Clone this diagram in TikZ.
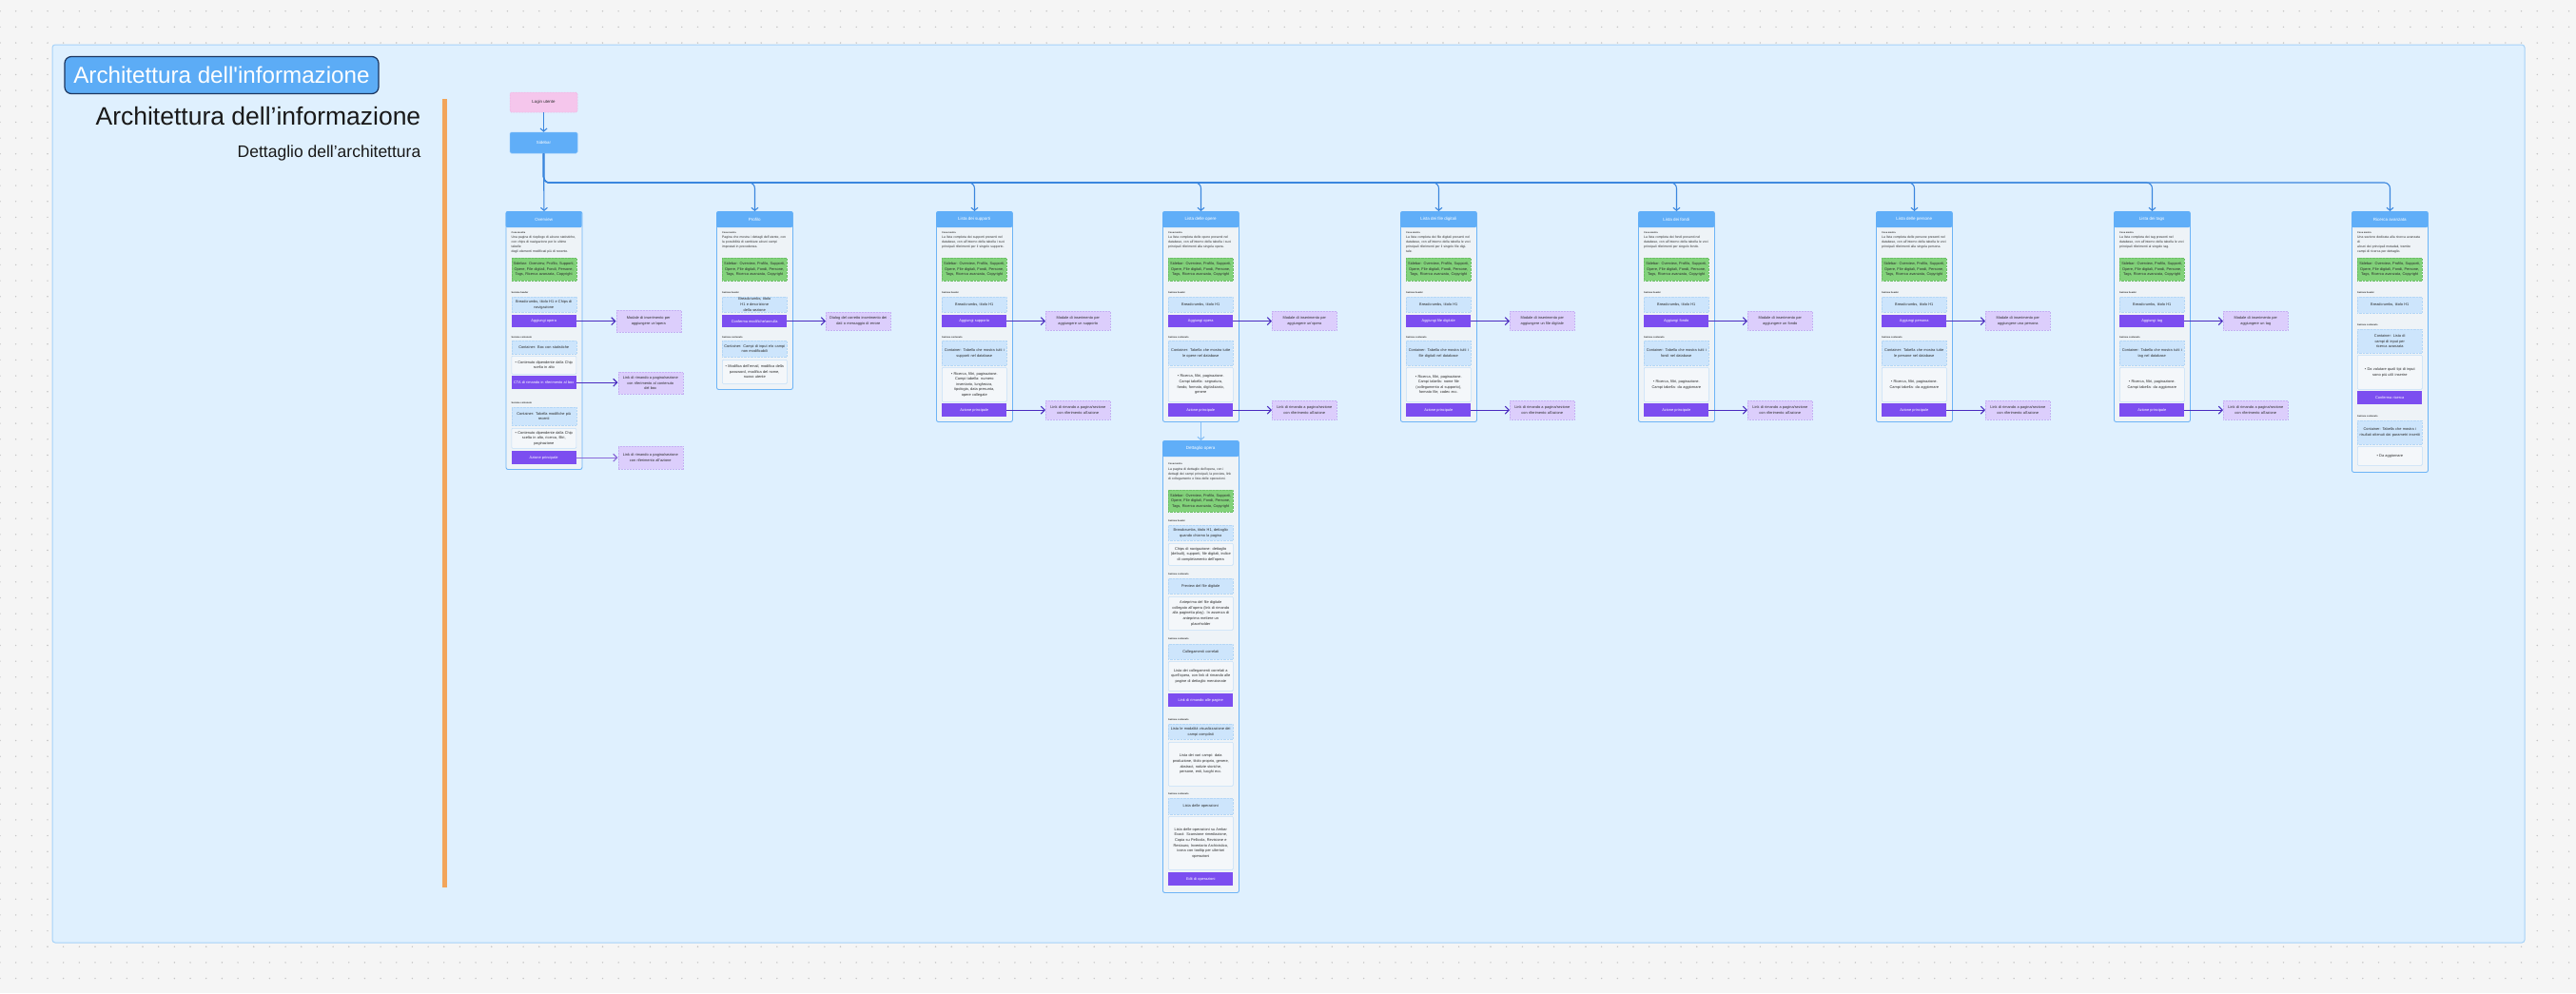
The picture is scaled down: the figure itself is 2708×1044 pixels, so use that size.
\documentclass[tikz,border=0pt]{standalone}
\usepackage{fontspec}
\setmainfont{Liberation Sans}
\newfontfamily\rawsans{Liberation Sans}[Ligatures=TeXOff]
\usetikzlibrary{arrows.meta}
\definecolor{pagebg}{HTML}{F5F5F5}
\definecolor{dotc}{HTML}{C4C4C4}
\definecolor{framebg}{HTML}{DFF0FE}
\definecolor{frameline}{HTML}{A6D2F8}
\definecolor{titlefill}{HTML}{5CACF6}
\definecolor{titleline}{HTML}{1C355E}
\definecolor{orangec}{HTML}{F2A55A}
\definecolor{pinkc}{HTML}{F5C6EC}
\definecolor{pinkline}{HTML}{E9A9DC}
\definecolor{hdrc}{HTML}{60AEF8}
\definecolor{cardbg}{HTML}{EEF3F7}
\definecolor{cardline}{HTML}{6DB4F6}
\definecolor{greenc}{HTML}{82D27A}
\definecolor{greenline}{HTML}{6CBF66}
\definecolor{lbluec}{HTML}{CDE5FC}
\definecolor{lblueline}{HTML}{B3D6F6}
\definecolor{wboxc}{HTML}{F4F7FA}
\definecolor{wboxline}{HTML}{C3DFF8}
\definecolor{purplec}{HTML}{7C4EF0}
\definecolor{notec}{HTML}{DCCEFC}
\definecolor{noteline}{HTML}{C5B0F3}
\definecolor{connc}{HTML}{3A86DE}
\definecolor{connlight}{HTML}{86BFF5}
\definecolor{sidec}{HTML}{4A2BBF}
\definecolor{sidelight}{HTML}{8A6AD8}
\definecolor{txtc}{HTML}{2E2E2E}

\newcommand\mycard[5]{%
  \node[cardbody, minimum height=#4pt] (#1) at (#2,#3) {};
  \node[cardhdr] (#1h) at (#2,#3) {#5};}
\newcommand\mybox[6]{\node[#1, minimum height=#5pt] (#2) at (#3,#4) {#6};}
\newcommand\mylabel[4]{\node[lstyle] (#1) at (#2,#3) {#4};}
\newcommand\mydesc[4]{\node[dstyle] (#1) at (#2,#3) {#4};}
\newcommand\sidearrow[3][sidec]{\draw[sarrow, draw=#1] (#2.east) -- (#2.east -| #3.west);}
\newcommand\sidebartxt{Sidebar: Overview, Profilo, Supporti,\\Opere, File digitali, Fondi, Persone,\\Tags, Ricerca avanzata, Copyright}
\newcommand\commontop[4]{%
  \mylabel{#1l1}{#2+6}{#3+23}{Cosa mostra}
  \mydesc{#1d}{#2+6}{#3+26}{#4}
  \mybox{gbox}{#1g}{#2+6}{#3+49}{24}{\sidebartxt}}
\newcommand\listcol[8]{%
  \mycard{#1}{#2}{222}{221}{#3}
  \commontop{#1}{#2}{222}{#4}
  \mylabel{#1l2}{#2+6}{308}{Sezione header}
  \mybox{lbox}{#1b1}{#2+6}{312}{16}{Breadcrumbs, titolo H1}
  \mybox{pbox}{#1p1}{#2+6}{331}{13}{#5}
  \mybox{nbox}{#1n1}{#2+115}{327}{20}{#6}
  \mylabel{#1l3}{#2+6}{355}{Sezione contenuto}
  \mybox{lbox}{#1b2}{#2+6}{358}{26}{#7}
  \mybox{wbox}{#1w1}{#2+6}{386}{36}{#8}
  \mybox{pbox}{#1p2}{#2+6}{424}{14}{Azione principale}
  \mybox{nbox}{#1n2}{#2+115}{421}{20}{Link di rimando a pagina/sezione\\con riferimento all’azione}
  \sidearrow{#1p1}{#1n1}
  \sidearrow{#1p2}{#1n2}}

\begin{document}
\begin{tikzpicture}[x=1pt,y=-1pt,
  cardbody/.style={anchor=north west, minimum width=80pt, draw=cardline, fill=cardbg, line width=0.9pt, rounded corners=2pt, inner sep=0pt},
  cardhdr/.style={anchor=north west, minimum width=80pt, minimum height=17pt, fill=hdrc, rounded corners=2pt, text=white, font=\fontsize{4.5}{5}\selectfont, inner sep=0pt},
  boxbase/.style={anchor=north west, text width=64pt, inner xsep=2pt, inner ysep=0pt, align=center, font=\fontsize{3.9}{5.6}\selectfont, text=txtc},
  gbox/.style={boxbase, fill=greenc, draw=greenline, densely dotted, line width=0.4pt},
  lbox/.style={boxbase, fill=lbluec, draw=lblueline, densely dotted, line width=0.4pt},
  wbox/.style={boxbase, fill=wboxc, draw=wboxline, line width=0.6pt, rounded corners=1pt},
  pbox/.style={boxbase, fill=purplec, text=white},
  nbox/.style={boxbase, fill=notec, draw=noteline, densely dotted, line width=0.5pt},
  lstyle/.style={anchor=west, inner sep=0pt, font=\fontsize{2.4}{3}\selectfont\bfseries, text=txtc},
  dstyle/.style={anchor=north west, text width=68pt, inner sep=0pt, align=left, font=\fontsize{3.4}{5}\selectfont, text=txtc},
  conn/.style={draw=connc, line width=1.1pt, -{Straight Barb[length=3pt,width=7pt]}},
  sarrow/.style={line width=1.1pt, -{Straight Barb[length=4pt,width=8pt]}},
  topbox/.style={minimum width=71pt, inner sep=0pt, font=\fontsize{4.4}{5}\selectfont, rounded corners=1.5pt}
]
\useasboundingbox (0,0) rectangle (2708,1044);
\fill[pagebg] (0,0) rectangle (2708,1044);
\foreach \i in {0,...,162} \foreach \j in {0,1,2,59,60,61} \fill[dotc] (\i*16.67,11.7+\j*16.67) circle (0.8);
\foreach \i in {0,1,2,3,159,160,161,162} \foreach \j in {3,...,58} \fill[dotc] (\i*16.67,11.7+\j*16.67) circle (0.8);
\draw[fill=framebg, draw=frameline, line width=1pt, rounded corners=3pt] (55,47) rectangle (2654,991);

% titles
\node[fill=titlefill, draw=titleline, line width=1.2pt, rounded corners=7pt, minimum width=330pt, minimum height=39pt, inner sep=0pt, text=white, font=\rawsans\fontsize{24.2}{26}\selectfont] (title) at (233,79) {Architettura dell'informazione};
\node[anchor=base east, inner sep=0pt, font=\fontsize{26.5}{28}\selectfont, text=black!90] (sub1) at (442.5,131) {Architettura dell’informazione};
\node[anchor=base east, inner sep=0pt, font=\fontsize{17.5}{19}\selectfont, text=black!90] (sub2) at (442.5,165.5) {Dettaglio dell’architettura};
\draw[orangec, line width=4.5pt] (467.5,104) -- (467.5,933);

% top nodes
\node[topbox, fill=pinkc, draw=pinkline, densely dotted, line width=0.5pt, minimum height=21pt, text=txtc] (login) at (571.5,107.5) {Login utente};
\node[topbox, fill=hdrc, draw=hdrc!80!white, line width=0.5pt, minimum height=22pt, text=white] (sidebar) at (571.5,150) {Sidebar};
\draw[conn] (login.south) -- (sidebar.north);
\coordinate (bus) at (571.5,192);

% ---------- Overview ----------
\mycard{ov}{531.5}{222}{271}{Overview}
\commontop{ov}{531.5}{222}{Una pagina di riepilogo di alcune statistiche,\\con chips di navigazione per le ultime tabelle\\degli elementi modificati più di recente.}
\mylabel{ovl2}{537.5}{308}{Sezione header}
\mybox{lbox}{ovb1}{537.5}{312}{16}{Breadcrumbs, titolo H1 e Chips di\\navigazione}
\mybox{pbox}{ovp1}{537.5}{331}{13}{Aggiungi opera}
\mybox{nbox}{ovn1}{647.5}{326}{23}{Modale di inserimento per\\aggiungere un’opera}
\mylabel{ovl3}{537.5}{355}{Sezione contenuto}
\mybox{lbox}{ovb2}{537.5}{358}{14}{Container: Box con statistiche}
\mybox{wbox}{ovw1}{537.5}{374}{19}{• Contenuto dipendente dalla Chip\\scelta in alto}
\mybox{pbox}{ovp2}{537.5}{395}{14}{CTA di rimando in riferimento al box}
\mybox{nbox}{ovn2}{649.5}{391}{23}{Link di rimando a pagina/sezione\\con riferimento al contenuto\\del box}
\mylabel{ovl4}{537.5}{424}{Sezione contenuto}
\mybox{lbox}{ovb3}{537.5}{428}{19}{Container: Tabella modifiche più\\recenti}
\mybox{wbox}{ovw2}{537.5}{450}{21}{• Contenuto dipendente dalla Chip\\scelta in alto, ricerca, filtri,\\paginazione}
\mybox{pbox}{ovp3}{537.5}{474}{14}{Azione principale}
\mybox{nbox}{ovn3}{649.5}{469}{24}{Link di rimando a pagina/sezione\\con riferimento all’azione}
\sidearrow{ovp1}{ovn1}
\sidearrow{ovp2}{ovn2}
\sidearrow[sidelight]{ovp3}{ovn3}

% ---------- Profilo ----------
\mycard{pr}{753}{222}{187}{Profilo}
\commontop{pr}{753}{222}{Pagina che mostra i dettagli dell’utente, con\\la possibilità di cambiare alcuni campi\\impostati in precedenza.}
\mylabel{prl2}{759}{308}{Sezione header}
\mybox{lbox}{prb1}{759}{312}{16}{Breadcrumbs, titolo H1 e descrizione\\della sezione}
\mybox{pbox}{prp1}{759}{331}{13}{Conferma modifiche/annulla}
\mybox{nbox}{prn1}{868}{328}{19}{Dialog del corretto inserimento dei\\dati o messaggio di errore}
\mylabel{prl3}{759}{355}{Sezione contenuto}
\mybox{lbox}{prb2}{759}{358}{17}{Container: Campi di input e/o campi\\non modificabili}
\mybox{wbox}{prw1}{759}{378}{25}{• Modifica dell’email, modifica della\\password, modifica del nome,\\nuovo utente}
\sidearrow{prp1}{prn1}

% ---------- list columns ----------
\listcol{su}{984}{Lista dei supporti}{La lista completa dei supporti presenti nel\\database, con all’interno della tabella i suoi\\principali riferimenti per il singolo supporto.}{Aggiungi supporto}{Modale di inserimento per\\aggiungere un supporto}{Container: Tabella che mostra tutti i\\supporti nel database}{• Ricerca, filtri, paginazione.\\Campi tabella: numero\\inventario, lunghezza,\\tipologia, data presunta,\\opere collegate}
\listcol{op}{1222}{Lista delle opere}{La lista completa delle opere presenti nel\\database, con all’interno della tabella i suoi\\principali riferimenti alla singola opera.}{Aggiungi opera}{Modale di inserimento per\\aggiungere un’opera}{Container: Tabella che mostra tutte\\le opere nel database}{• Ricerca, filtri, paginazione.\\Campi tabella: segnatura,\\fondo, formato, digitalizzato,\\genere}
\listcol{fd}{1472}{Lista dei file digitali}{La lista completa dei file digitali presenti nel\\database, con all’interno della tabella le voci\\principali riferimenti per il singolo file digitale.}{Aggiungi file digitale}{Modale di inserimento per\\aggiungere un file digitale}{Container: Tabella che mostra tutti i\\file digitali nel database}{• Ricerca, filtri, paginazione.\\Campi tabella: nome file\\(collegamento al supporto),\\formato file, codec ecc.}
\listcol{fo}{1722}{Lista dei fondi}{La lista completa dei fondi presenti nel\\database, con all’interno della tabella le voci\\principali riferimenti per singolo fondo.}{Aggiungi fondo}{Modale di inserimento per\\aggiungere un fondo}{Container: Tabella che mostra tutti i\\fondi nel database}{• Ricerca, filtri, paginazione.\\Campi tabella: da aggiornare}
\listcol{pe}{1972}{Lista delle persone}{La lista completa delle persone presenti nel\\database, con all’interno della tabella le voci\\principali riferimenti alla singola persona.}{Aggiungi persona}{Modale di inserimento per\\aggiungere una persona}{Container: Tabella che mostra tutte\\le persone nel database}{• Ricerca, filtri, paginazione.\\Campi tabella: da aggiornare}
\listcol{tg}{2222}{Lista dei tags}{La lista completa dei tag presenti nel\\database, con all’interno della tabella le voci\\principali riferimenti al singolo tag.}{Aggiungi tag}{Modale di inserimento per\\aggiungere un tag}{Container: Tabella che mostra tutti i\\tag nel database}{• Ricerca, filtri, paginazione.\\Campi tabella: da aggiornare}

% ---------- Ricerca avanzata ----------
\mycard{ra}{2472}{222}{274}{Ricerca avanzata}
\commontop{ra}{2472}{222}{Una sezione dedicata alla ricerca avanzata di\\alcuni dei principali metadati, tramite\\campi di ricerca per dettaglio.}
\mylabel{ral2}{2478}{308}{Sezione header}
\mybox{lbox}{rab1}{2478}{312}{17}{Breadcrumbs, titolo H1}
\mylabel{ral3}{2478}{342}{Sezione contenuto}
\mybox{lbox}{rab2}{2478}{346}{25}{Container: Lista di campi di input per\\ricerca avanzata}
\mybox{wbox}{raw1}{2478}{373}{36}{• Da valutare quali tipi di input\\sono più utili inserire}
\mybox{pbox}{rap1}{2478}{411}{14}{Conferma ricerca}
\mylabel{ral4}{2478}{438}{Sezione contenuto}
\mybox{lbox}{rab3}{2478}{442}{25}{Container: Tabella che mostra i\\risultati ottenuti dai parametri inseriti}
\mybox{wbox}{raw2}{2478}{469}{20}{• Da aggiornare}

% ---------- Dettaglio opera ----------
\mycard{dt}{1222}{463}{475}{Dettaglio opera}
\mylabel{dtl1}{1228}{488}{Cosa mostra}
\mydesc{dtd}{1228}{492}{La pagina di dettaglio dell’opera, con i\\dettagli dei campi principali, la preview, link\\di collegamento e lista delle operazioni.}
\mybox{gbox}{dtg}{1228}{515}{23}{\sidebartxt}
\mylabel{dtl2}{1228}{548}{Sezione header}
\mybox{lbox}{dtb1}{1228}{552}{16}{Breadcrumbs, titolo H1, dettaglio\\quando chiamo la pagina}
\mybox{wbox}{dtw1}{1228}{571}{23}{Chips di navigazione: dettaglio\\(default), supporti, file digitali, indice\\di completamento dell’opera}
\mylabel{dtl3}{1228}{604}{Sezione contenuto}
\mybox{lbox}{dtb2}{1228}{608}{16}{Preview del file digitale}
\mybox{wbox}{dtw2}{1228}{627}{35}{Anteprima del file digitale\\collegato all’opera (link di rimando\\alla paginetta play). In assenza di\\anteprima mettere un\\placeholder}
\mylabel{dtl4}{1228}{672}{Sezione contenuto}
\mybox{lbox}{dtb3}{1228}{677}{16}{Collegamenti correlati}
\mybox{wbox}{dtw3}{1228}{695}{31}{Lista dei collegamenti correlati a\\quell’opera, con link di rimando alle\\pagine di dettaglio menzionate}
\mybox{pbox}{dtp1}{1228}{729}{14}{Link di rimando alle pagine}
\mylabel{dtl5}{1228}{757}{Sezione contenuto}
\mybox{lbox}{dtb4}{1228}{761}{16}{Lista le modalità visualizzazione dei\\campi compilati}
\mybox{wbox}{dtw4}{1228}{780}{46}{Lista dei vari campi: data\\produzione, titolo proprio, genere,\\abstract, notizie storiche,\\persone, enti, luoghi ecc.}
\mylabel{dtl6}{1228}{835}{Sezione contenuto}
\mybox{lbox}{dtb5}{1228}{839}{17}{Lista delle operazioni}
\mybox{wbox}{dtw5}{1228}{858}{56}{Lista delle operazioni su Ambar\\Exact: Scansione rimediazione,\\Copia su Pellicola, Revisione e\\Restauro, Inventario Archivistico,\\icona con tooltip per ulteriori\\operazioni}
\mybox{pbox}{dtp2}{1228}{917}{14}{Edit di operazioni}

% ---------- connectors from sidebar ----------
\draw[conn] (sidebar.south) -- (ov.north);
\foreach \c in {pr,su,op,fd,fo,pe,tg,ra}
  \draw[conn, rounded corners=6pt] (sidebar.south) |- (bus -| \c.north) -- (\c.north);
\draw[conn, draw=connlight] (op.south) -- (dt.north);
\end{tikzpicture}
\end{document}
